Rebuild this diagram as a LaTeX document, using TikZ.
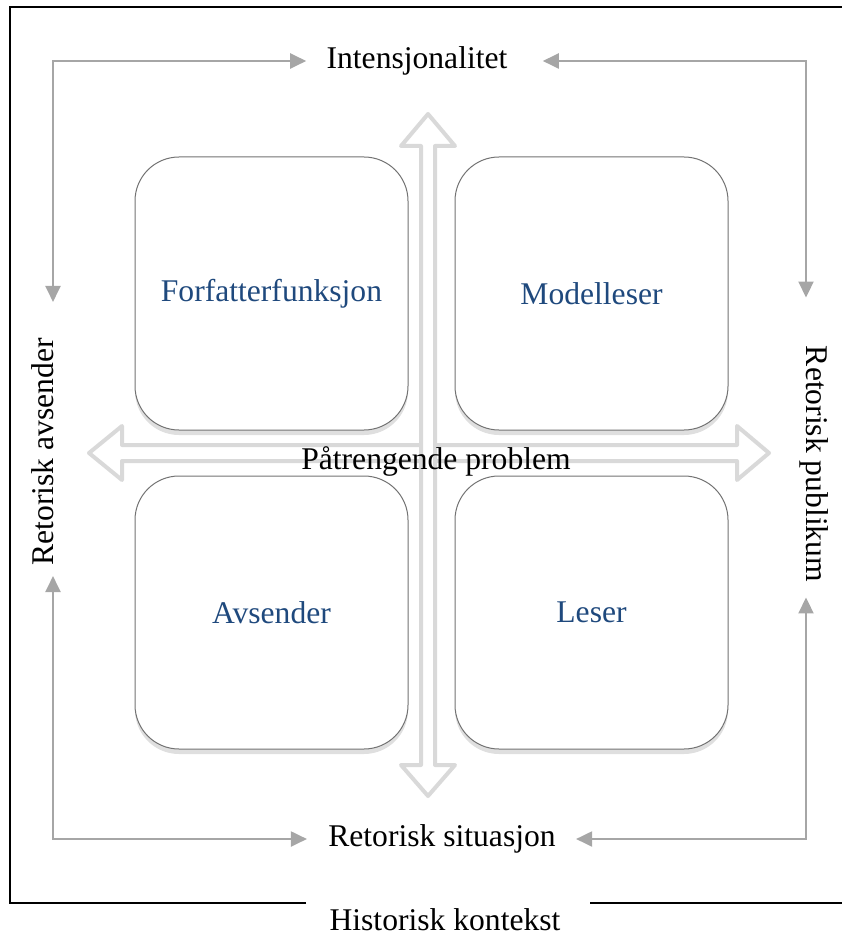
\documentclass[tikz,border=0pt]{standalone}
\usepackage{fontspec}
\setmainfont{Liberation Serif}
\usetikzlibrary{arrows.meta,shadows}
\definecolor{connGray}{RGB}{166,166,166}
\definecolor{bigGray}{RGB}{217,217,217}
\definecolor{boxBlue}{RGB}{31,73,125}

\begin{document}
\begin{tikzpicture}[x=0.5pt,y=-0.5pt,
  label/.style={inner sep=0pt,font=\fontsize{15.8pt}{19pt}\selectfont},
  quad/.style={draw=black!55,line width=0.5pt,fill=white,rounded corners=22pt,
    minimum width=136.5pt,minimum height=136.5pt,inner sep=0pt,
    text=boxBlue,font=\fontsize{15.8pt}{19pt}\selectfont,
    drop shadow={shadow xshift=0pt,shadow yshift=-2.5pt,opacity=0.25}},
  conn/.style={draw=connGray,line width=1pt,{Triangle[length=8pt,width=7.5pt]}-{Triangle[length=8pt,width=7.5pt]}},
  bigarrow/.style={draw=bigGray,line width=2pt,line join=round,fill=white},
  frame/.style={draw=black,line width=1pt}]
\useasboundingbox (0,0) rectangle (842,935);

% frame
\draw[frame] (306,903) -| (10,7) -- (842,7);
\draw[frame] (590,903) -- (842,903);

% quadrants
\node[quad] (ff) at (271.5,293.5) {Forfatterfunksjon};
\node[quad] (ml) at (591.5,293.5) {Modelleser};
\node[quad] (av) at (271.5,612.5) {Avsender};
\node[quad] (ls) at (591.5,612.5) {Leser};

% big arrows
\draw[bigarrow] (89,453) -- (122,426) -- (122,445) -- (737,445) -- (737,426)
  -- (769,453) -- (737,480) -- (737,461) -- (122,461) -- (122,480) -- cycle;
\draw[bigarrow] (428,114) -- (455,146) -- (435,146) -- (435,765) -- (455,765)
  -- (428,796) -- (401,765) -- (421,765) -- (421,146) -- (401,146) -- cycle;

% labels
\node[label] (int) at (417,61) {Intensjonalitet};
\node[label] (sit) at (442,839) {Retorisk situasjon};
\node[label] (hist) at (445,920) {Historisk kontekst};
\node[label] (prob) at (436,461) {Påtrengende problem};
\node[label,rotate=90,anchor=base] (avs) at (53,452) {Retorisk avsender};
\node[label,rotate=-90,anchor=base] (pub) at (806,464) {Retorisk publikum};

% connectors
\draw[conn,shorten <=10pt,shorten >=18pt] (int.west) -| (avs.base east);
\draw[conn,shorten <=17.5pt,shorten >=24pt] (int.east) -| (pub.base west);
\draw[conn,shorten <=10.5pt,shorten >=5pt] (sit.west) -| (avs.base west);
\draw[conn,shorten <=10pt,shorten >=7.5pt] (sit.east) -| (pub.base east);
\end{tikzpicture}
\end{document}
